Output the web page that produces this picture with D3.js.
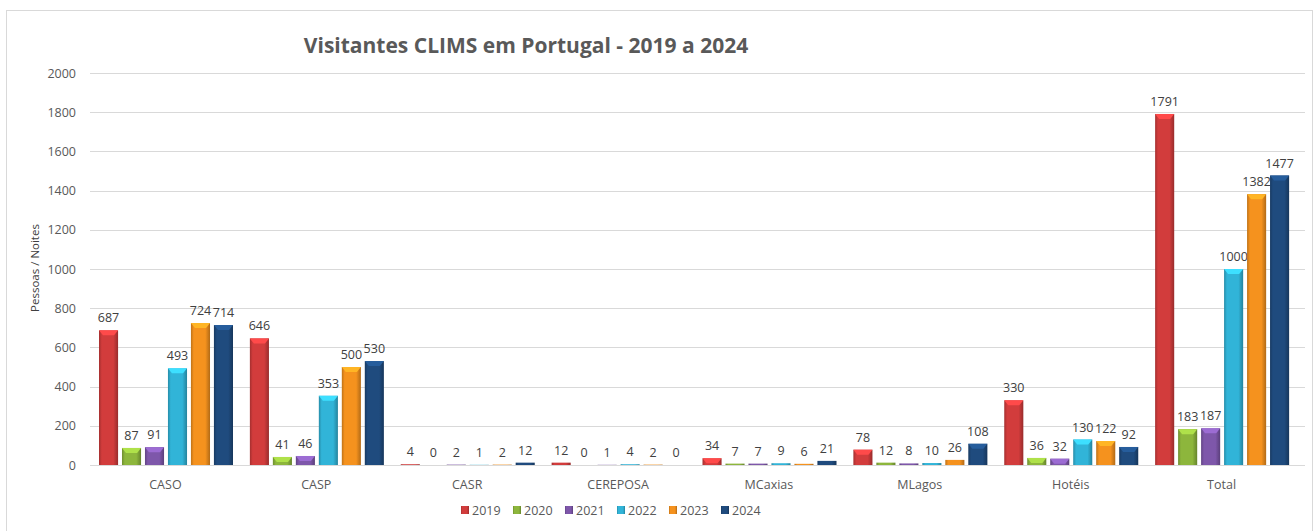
<!DOCTYPE html>
<html>
<head>
<meta charset="utf-8">
<script src="https://cdn.jsdelivr.net/npm/d3@7"></script>
<style>
  body { margin: 0; background: #fff; }
  svg { font-family: "Open Sans", "Noto Sans", sans-serif; }
</style>
</head>
<body>
<svg id="chart"></svg>
<script>
let width = 1314;
let height = 531;

// data
let categories = ['CASO', 'CASP', 'CASR', 'CEREPOSA', 'MCaxias', 'MLagos', 'Hotéis', 'Total'];
let years = ['2019', '2020', '2021', '2022', '2023', '2024'];
let v2019 = [687, 646, 4, 12, 34, 78, 330, 1791];
let v2020 = [87, 41, 0, 0, 7, 12, 36, 183];
let v2021 = [91, 46, 2, 1, 7, 8, 32, 187];
let v2022 = [493, 353, 1, 4, 9, 10, 130, 1000];
let v2023 = [724, 500, 2, 2, 6, 26, 122, 1382];
let v2024 = [714, 530, 12, 0, 21, 108, 92, 1477];
let yTicks = [0, 200, 400, 600, 800, 1000, 1200, 1400, 1600, 1800, 2000];
let colors = ['#d23c3c', '#8db63c', '#7e57aa', '#31b4d8', '#f5921e', '#1f4b7e'];

let series = [v2019, v2020, v2021, v2022, v2023, v2024];

let svg = d3.select('#chart')
            .attr('width', width)
            .attr('height', height);

// outer border
svg.append('rect')
   .attr('x', 6.5).attr('y', 10.5)
   .attr('width', width - 8).attr('height', height - 10)
   .attr('fill', 'none')
   .attr('stroke', '#d9d9d9');

let margin = {left: 90, right: 1297, gridRight: 1305, top: 73, bottom: 465};

let x = d3.scaleBand()
          .domain(categories)
          .range([margin.left, margin.right]);

let x1 = d3.scaleBand()
           .domain(years)
           .range([9, 143])
           .paddingInner(0.17);

let y = d3.scaleLinear()
          .domain([0, 2000])
          .range([margin.bottom, margin.top]);

// gradients per colour
let defs = svg.append('defs');
colors.forEach(function(c, i) {
  let g = defs.append('linearGradient')
              .attr('id', 'grad' + i)
              .attr('x1', '0%').attr('x2', '100%');
  g.append('stop').attr('offset', '0%').attr('stop-color', d3.color(c).darker(0.7));
  g.append('stop').attr('offset', '15%').attr('stop-color', c);
  g.append('stop').attr('offset', '75%').attr('stop-color', c);
  g.append('stop').attr('offset', '100%').attr('stop-color', d3.color(c).darker(0.9));
});

// gridlines
svg.append('g')
   .selectAll('line')
   .data(yTicks)
   .enter()
   .append('line')
   .attr('x1', margin.left).attr('x2', margin.gridRight)
   .attr('y1', d => Math.round(y(d)) + 0.5)
   .attr('y2', d => Math.round(y(d)) + 0.5)
   .attr('stroke', '#d9d9d9')
   .attr('stroke-width', 1);

// y tick labels
svg.append('g')
   .selectAll('text')
   .data(yTicks)
   .enter()
   .append('text')
   .attr('x', 76)
   .attr('y', d => y(d) + 4.5)
   .attr('text-anchor', 'end')
   .attr('font-size', 12.5)
   .attr('fill', '#595959')
   .text(d => d);

// y axis title
svg.append('text')
   .attr('transform', 'translate(39,268) rotate(-90)')
   .attr('text-anchor', 'middle')
   .attr('font-size', 11.5)
   .attr('fill', '#404040')
   .text('Pessoas / Noites');

// title
svg.append('text')
   .attr('x', 526)
   .attr('y', 53)
   .attr('text-anchor', 'middle')
   .attr('font-size', 21)
   .attr('font-weight', 'bold')
   .attr('fill', '#595959')
   .text('Visitantes CLIMS em Portugal - 2019 a 2024');

// bars
let groups = svg.append('g')
   .selectAll('g')
   .data(categories)
   .enter()
   .append('g')
   .attr('transform', d => 'translate(' + x(d) + ',0)');

let barData = function(cat, ci) {
  return years.map(function(yr, i) {
    return {year: yr, value: series[i][ci], i: i};
  });
};

let bars = groups.selectAll('g.bar')
   .data(barData)
   .enter()
   .append('g')
   .attr('class', 'bar');

bars.append('rect')
    .attr('x', d => x1(d.year))
    .attr('y', d => y(d.value))
    .attr('width', x1.bandwidth())
    .attr('height', d => y(0) - y(d.value))
    .attr('fill', d => 'url(#grad' + d.i + ')');

// top bevel
bars.filter(d => y(0) - y(d.value) > 6)
    .append('path')
    .attr('d', function(d) {
      let x0 = x1(d.year), w = x1.bandwidth(), t = y(d.value), h = 5;
      return 'M' + x0 + ',' + t + 'L' + (x0 + w) + ',' + t +
             'L' + (x0 + w - 4) + ',' + (t + h) + 'L' + (x0 + 4) + ',' + (t + h) + 'Z';
    })
    .attr('fill', d => d3.color(colors[d.i]).brighter(0.6));

// value labels
bars.append('text')
    .attr('x', d => x1(d.year) + x1.bandwidth() / 2)
    .attr('y', d => y(d.value) - 8)
    .attr('text-anchor', 'middle')
    .attr('font-size', 12.5)
    .attr('fill', '#404040')
    .text(d => d.value);

// category labels
svg.append('g')
   .selectAll('text')
   .data(categories)
   .enter()
   .append('text')
   .attr('x', d => x(d) + x.bandwidth() / 2)
   .attr('y', 489)
   .attr('text-anchor', 'middle')
   .attr('font-size', 12.5)
   .attr('fill', '#595959')
   .text(d => d);

// legend
let legend = svg.append('g')
   .selectAll('g')
   .data(years)
   .enter()
   .append('g')
   .attr('transform', (d, i) => 'translate(' + (461 + i * 52) + ',506)');

legend.append('rect')
      .attr('width', 8).attr('height', 8)
      .attr('fill', (d, i) => 'url(#grad' + i + ')');

legend.append('text')
      .attr('x', 11)
      .attr('y', 8.5)
      .attr('font-size', 12.5)
      .attr('fill', '#595959')
      .text(d => d);
</script>
</body>
</html>
